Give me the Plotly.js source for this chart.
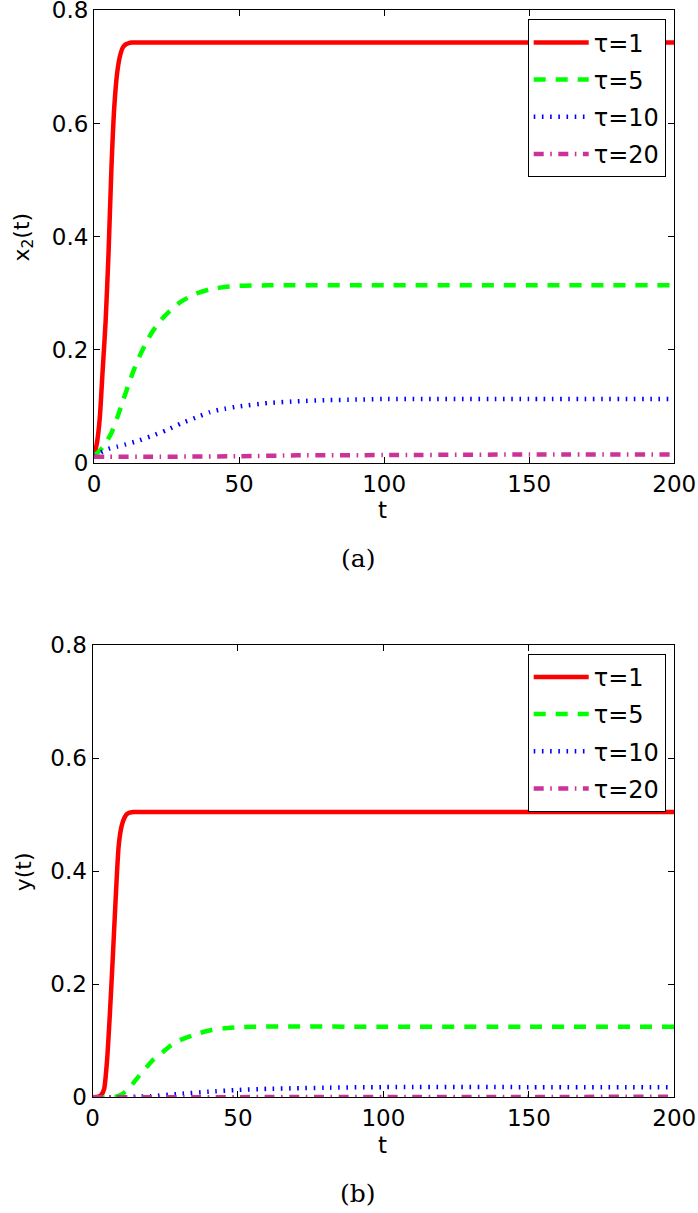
<!DOCTYPE html>
<html>
<head>
<meta charset="utf-8">
<script src="https://cdn.plot.ly/plotly-3.0.1.min.js"></script>
<style>html,body{margin:0;padding:0;background:#fff;}#chart{width:698px;height:1213px;}</style>
</head>
<body>
<div id="chart"></div>
<script>
// ---- Shared labels / ticks ----
const legendNames = ["τ=1", "τ=5", "τ=10", "τ=20"];
const xTicks = [0, 50, 100, 150, 200];
const yTicks = [0, 0.2, 0.4, 0.6, 0.8];
const xTitle = "t";
const yTitleA = "x<sub>2</sub>(t)";
const yTitleB = "y(t)";
const captions = ["(a)", "(b)"];

// ---- Panel (a): x2(t) ----
const tA1 = [0, 1, 2, 3, 4, 5, 6, 7, 8, 9, 10, 11, 12, 13, 14, 16, 20, 30, 50, 100, 150, 200];
const x2Tau1 = [0.012, 0.035, 0.08, 0.165, 0.25, 0.37, 0.52, 0.63, 0.69, 0.72, 0.735, 0.74, 0.742, 0.743, 0.743, 0.743, 0.743, 0.743, 0.743, 0.743, 0.743, 0.743];

const tA5 = [0, 2, 4, 6, 8, 10, 12, 14, 16, 18, 20, 23, 26, 30, 35, 40, 45, 50, 60, 100, 150, 200];
const x2Tau5 = [0.012, 0.022, 0.035, 0.053, 0.08, 0.11, 0.14, 0.168, 0.192, 0.213, 0.231, 0.252, 0.268, 0.285, 0.299, 0.307, 0.311, 0.313, 0.314, 0.314, 0.314, 0.314];

const tA10 = [0, 2, 5, 8, 11, 15, 20, 25, 30, 35, 40, 45, 50, 60, 70, 80, 90, 100, 150, 200];
const x2Tau10 = [0.012, 0.018, 0.025, 0.029, 0.033, 0.039, 0.048, 0.058, 0.07, 0.08, 0.09, 0.096, 0.1, 0.106, 0.109, 0.111, 0.112, 0.113, 0.113, 0.113];

const tA20 = [0, 5, 20, 50, 70, 100, 150, 200];
const x2Tau20 = [0.011, 0.011, 0.011, 0.012, 0.0135, 0.014, 0.015, 0.015];

// ---- Panel (b): y(t) ----
const tB1 = [0, 2, 3, 4, 5, 6, 7, 8, 9, 10, 11, 12, 14, 16, 20, 50, 100, 150, 200];
const yTau1 = [0, 0.001, 0.004, 0.015, 0.065, 0.15, 0.25, 0.355, 0.445, 0.48, 0.495, 0.502, 0.505, 0.505, 0.505, 0.505, 0.505, 0.505, 0.505];

const tB5 = [0, 5, 8, 10, 12, 14, 16, 18.7, 21, 24.4, 27, 30, 34, 37, 41, 45, 50, 55, 100, 150, 200];
const yTau5 = [0, 0, 0.001, 0.005, 0.013, 0.025, 0.038, 0.054, 0.067, 0.081, 0.092, 0.101, 0.109, 0.114, 0.119, 0.122, 0.124, 0.125, 0.125, 0.125, 0.125];

const tB10 = [0, 10, 15, 20, 30, 40, 50, 60, 70, 80, 100, 150, 200];
const yTau10 = [0, 0, 0.001, 0.002, 0.006, 0.01, 0.013, 0.015, 0.016, 0.017, 0.018, 0.018, 0.018];

const tB20 = [0, 50, 100, 150, 200];
const yTau20 = [0, 0.0003, 0.0005, 0.0007, 0.0008];

const colors = ["#ff0000", "#00ff00", "#0000ff", "#cc3399"];
const dashes = ["solid", "12px,10px", "1.6px,6.6px", "10px,6.5px,1.6px,6.5px"];
const widths = [4.5, 4.5, 4.5, 4.5];

const W = 698, H = 1213;
const px = v => v / W;
const py = v => 1 - v / H;

function mk(x, y, i, xa, ya, leg) {
  return {
    x: x, y: y, type: "scatter", mode: "lines", name: legendNames[i],
    xaxis: xa, yaxis: ya, legend: leg, legendgroup: leg + "g" + i,
    line: {color: colors[i], width: widths[i], dash: dashes[i], shape: "spline", smoothing: 0.6}
  };
}

const data = [
  mk(tA1, x2Tau1, 0, "x", "y", "legend"),
  mk(tA5, x2Tau5, 1, "x", "y", "legend"),
  mk(tA10, x2Tau10, 2, "x", "y", "legend"),
  mk(tA20, x2Tau20, 3, "x", "y", "legend"),
  mk(tB1, yTau1, 0, "x2", "y2", "legend2"),
  mk(tB5, yTau5, 1, "x2", "y2", "legend2"),
  mk(tB10, yTau10, 2, "x2", "y2", "legend2"),
  mk(tB20, yTau20, 3, "x2", "y2", "legend2")
];

const font = "DejaVu Sans, Liberation Sans, sans-serif";
const serif = "DejaVu Serif, serif";
function xax(dom, anchor) {
  return {
    domain: dom, anchor: anchor, range: [0, 200], tickvals: xTicks,
    ticks: "inside", ticklen: 6, tickcolor: "#000", tickwidth: 1,
    showline: true, linecolor: "#000", linewidth: 1, mirror: "ticks",
    showgrid: false, zeroline: false, ticklabeloverflow: "allow",
    tickfont: {family: font, size: 23, color: "#000"}
  };
}
function yax(dom, anchor) {
  return {
    domain: dom, anchor: anchor, range: [0, 0.8], tickvals: yTicks,
    ticks: "inside", ticklen: 6, tickcolor: "#000", tickwidth: 1,
    showline: true, linecolor: "#000", linewidth: 1, mirror: "ticks",
    showgrid: false, zeroline: false, ticklabeloverflow: "allow",
    tickfont: {family: font, size: 23, color: "#000"}
  };
}
function leg(yTop) {
  return {
    x: px(665.7), xanchor: "right", y: yTop, yanchor: "top",
    bgcolor: "#fff", bordercolor: "#000", borderwidth: 1,
    font: {family: font, size: 24, color: "#000"},
    itemwidth: 55, traceorder: "grouped", tracegroupgap: 3
  };
}
function note(text, x, y, fam, size, angle) {
  return {text: text, x: px(x), y: py(y), xref: "paper", yref: "paper", showarrow: false,
          xanchor: "center", yanchor: "middle", textangle: angle || 0,
          font: {family: fam, size: size, color: "#000"}};
}

const layout = {
  width: W, height: H,
  margin: {l: 0, r: 0, t: 0, b: 0},
  paper_bgcolor: "#fff", plot_bgcolor: "#fff",
  showlegend: true,
  xaxis: xax([px(94), px(674.3)], "y"),
  yaxis: yax([py(463), py(10.3)], "x"),
  xaxis2: xax([px(92.5), px(674.3)], "y2"),
  yaxis2: yax([py(1097.3), py(645.3)], "x2"),
  legend: leg(py(19.3)),
  legend2: leg(py(653.8)),
  annotations: [
    note(xTitle, 382, 510, font, 23),
    note(xTitle, 382, 1144.5, font, 23),
    note(yTitleA, 23, 236.5, font, 22, -90),
    note(yTitleB, 23, 871.3, font, 22, -90),
    note(captions[0], 357.5, 559, serif, 25),
    note(captions[1], 357.5, 1193.5, serif, 25)
  ]
};

Plotly.newPlot("chart", data, layout, {staticPlot: true, displayModeBar: false});
</script>
</body>
</html>
